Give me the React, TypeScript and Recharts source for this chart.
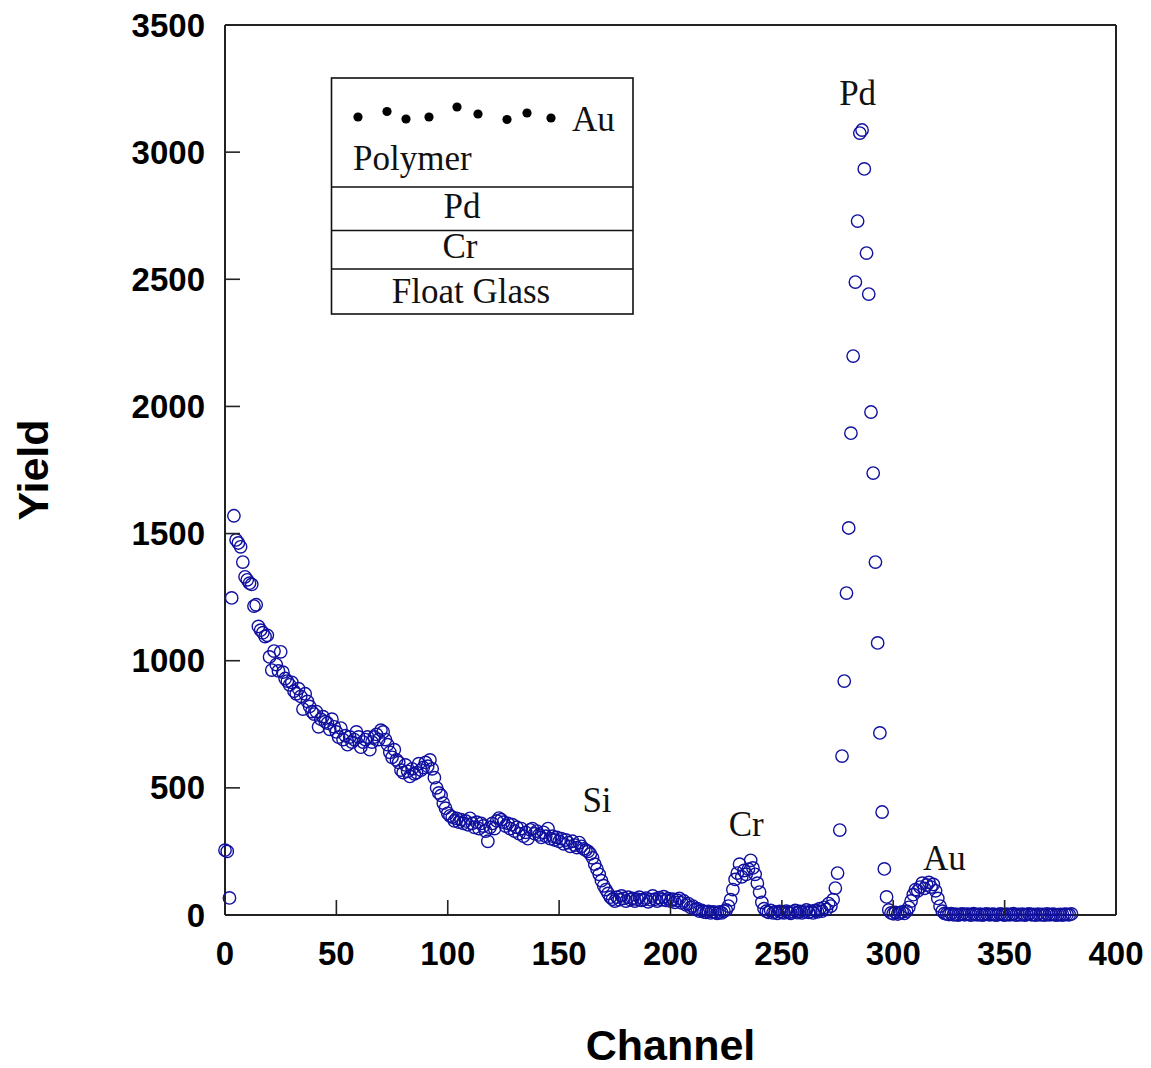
import React from 'react';
import { ScatterChart, Scatter, XAxis, YAxis, ReferenceDot } from 'recharts';

// RBS spectrum: yield per channel, starting at channel 0
const yields: number[] = [
  255, 250, 67, 1247, 1570, 1475, 1463, 1448, 1388, 1330,
  1318, 1305, 1300, 1215, 1220, 1135, 1120, 1110, 1095, 1100,
  1015, 963, 1038, 985, 960, 1035, 955, 930, 920, 905,
  915, 880, 870, 890, 860, 810, 870, 840, 820, 800,
  790, 800, 740, 770, 780, 760, 755, 730, 770, 740,
  720, 700, 735, 690, 705, 670, 700, 680, 690, 720,
  700, 660, 680, 690, 700, 650, 680, 700, 710, 690,
  727, 720, 690, 670, 640, 620, 650, 610, 600, 570,
  560, 590, 565, 545, 575, 555, 560, 595, 570, 580,
  600, 585, 610, 575, 540, 500, 480, 470, 440, 420,
  400, 390, 385, 370, 380, 365, 375, 360, 370, 355,
  380, 360, 345, 365, 340, 360, 350, 330, 290, 345,
  360, 340, 370, 381, 375, 365, 350, 360, 340, 355,
  330, 345, 320, 340, 310, 325, 300, 335, 340, 320,
  330, 315, 305, 325, 310, 340, 300, 310, 295, 305,
  290, 300, 280, 295, 285, 270, 290, 275, 265, 285,
  270, 260, 255, 250, 240, 225, 200, 180, 160, 135,
  115, 100, 85, 70, 62, 55, 70, 60, 75, 65,
  55, 70, 60, 65, 55, 62, 70, 58, 60, 66,
  52, 60, 75, 62, 55, 68, 60, 72, 58, 64,
  55, 62, 50, 58, 65, 48, 55, 40, 45, 30,
  35, 22, 25, 15, 18, 12, 10, 14, 8, 12,
  10, 6, 12, 8, 15, 20, 35, 60, 100, 140,
  165, 200, 150, 175, 160, 180, 215, 185, 160, 125,
  90, 50, 25, 15, 10, 18, 8, 12, 6, 14,
  10, 8, 15, 10, 6, 12, 18, 9, 14, 8,
  12, 20, 10, 15, 8, 18, 12, 25, 15, 30,
  22, 45, 35, 60, 106, 165, 334, 625, 920, 1266,
  1522, 1895, 2198, 2489, 2729, 3075, 3087, 2934, 2603, 2442,
  1978, 1738, 1388, 1070, 716, 405, 181, 71, 20, 8,
  5, 10, 4, 8, 12, 6, 15, 30, 55, 80,
  100, 95, 110, 125, 105, 118, 128, 110, 120, 95,
  65, 35, 15, 6, 4, 2, 5, 1, 3, 0,
  2, 4, 1, 3, 2, 0, 5, 2, 1, 3,
  0, 2, 4, 1, 2, 3, 0, 1, 4, 2,
  0, 3, 1, 2, 5, 0, 2, 1, 3, 0,
  2, 4, 1, 2, 0, 3, 1, 2, 0, 4,
  1, 2, 3, 0, 1, 2, 0, 3, 2, 1,
  4,
];

const channelTicks = [0, 50, 100, 150, 200, 250, 300, 350, 400];
const yieldTicks = [0, 500, 1000, 1500, 2000, 2500, 3000, 3500];

// Element labels placed above their peaks (channel, yield of the label baseline)
const peakLabels = [
  { text: 'Si', channel: 167, yield: 405 },
  { text: 'Cr', channel: 234, yield: 311 },
  { text: 'Pd', channel: 284, yield: 3185 },
  { text: 'Au', channel: 323, yield: 178 },
];

// Sample stack shown in the inset, top to bottom below the polymer layer
const layerNames = ['Pd', 'Cr', 'Float Glass'];

const spectrum = yields.map((y, i) => ({ channel: i, yield: y }));

const SANS = '"Liberation Sans", Arial, Helvetica, sans-serif';
const SERIF = '"Liberation Serif", "Times New Roman", Times, serif';
const TICK_LEN = 15;
const AXIS_COLOR = '#222';
const MARKER_COLOR = '#1010a0';

const LeftTick = (props: any) => {
  const { x, y, payload } = props;
  return (
    <g>
      <line x1={x} y1={y} x2={x + TICK_LEN} y2={y} stroke={AXIS_COLOR} strokeWidth={1.6} />
      <text x={x - 20} y={y} textAnchor="end" dominantBaseline="central"
        fontFamily={SANS} fontWeight="bold" fontSize={33} fill="#000">
        {payload.value}
      </text>
    </g>
  );
};

const RightTick = (props: any) => {
  const { x, y } = props;
  return <line x1={x} y1={y} x2={x - TICK_LEN} y2={y} stroke={AXIS_COLOR} strokeWidth={1.6} />;
};

const BottomTick = (props: any) => {
  const { x, y, payload } = props;
  return (
    <g>
      <line x1={x} y1={y} x2={x} y2={y - TICK_LEN} stroke={AXIS_COLOR} strokeWidth={1.6} />
      <text x={x} y={y + 50} textAnchor="middle"
        fontFamily={SANS} fontWeight="bold" fontSize={33} fill="#000">
        {payload.value}
      </text>
    </g>
  );
};

const TopTick = (props: any) => {
  const { x, y } = props;
  return <line x1={x} y1={y} x2={x} y2={y + TICK_LEN} stroke={AXIS_COLOR} strokeWidth={1.6} />;
};

const OpenCircle = (props: any) => {
  const { cx, cy } = props;
  if (cx == null || cy == null) return <g />;
  return <circle cx={cx} cy={cy} r={6.2} fill="none" stroke={MARKER_COLOR} strokeWidth={1.4} />;
};

// Inset sketch of the sample: Au particles on polymer over Pd / Cr / float glass
const SampleInset = () => {
  const left = 323.5;
  const right = 625;
  const top = 70;
  const bottom = 306;
  const dividers = [179, 222.5, 261];
  const layerBaselines = [210, 250, 295];
  const layerCenters = [454, 452, 463];
  const particles = [
    [350, 109], [379, 103.5], [398, 111], [421, 109], [449, 99],
    [470, 106], [499, 111.5], [519, 105], [543, 110],
  ];
  return (
    <g>
      <rect x={left} y={top} width={right - left} height={bottom - top}
        fill="#fff" stroke="#111" strokeWidth={1.6} />
      {dividers.map((d) => (
        <line key={d} x1={left} x2={right} y1={d} y2={d} stroke="#111" strokeWidth={1.6} />
      ))}
      {particles.map(([px, py], i) => (
        <circle key={i} cx={px} cy={py} r={4.6} fill="#000" />
      ))}
      <text x={564} y={123} fontFamily={SERIF} fontSize={35} fill="#111">Au</text>
      <text x={345} y={162} fontFamily={SERIF} fontSize={35} fill="#111">Polymer</text>
      {layerNames.map((name, i) => (
        <text key={name} x={layerCenters[i]} y={layerBaselines[i]} textAnchor="middle"
          fontFamily={SERIF} fontSize={35} fill="#111">
          {name}
        </text>
      ))}
    </g>
  );
};

export default function App() {
  return (
    <div style={{ width: 1135, height: 1060, background: '#fff' }}>
      <ScatterChart width={1135} height={1060}
        margin={{ top: 16, right: 26, bottom: 0, left: 0 }}>
        <XAxis xAxisId="bottom" type="number" dataKey="channel" domain={[0, 400]}
          ticks={channelTicks} interval={0} height={153} tickSize={0} tickMargin={0}
          axisLine={{ stroke: AXIS_COLOR, strokeWidth: 2 }} tickLine={false}
          tick={<BottomTick />}
          label={{
            content: (p: any) => {
              const vb = p.viewBox || {};
              return (
                <text x={vb.x + vb.width / 2} y={vb.y + 145} textAnchor="middle"
                  fontFamily={SANS} fontWeight="bold" fontSize={43} fill="#000">
                  Channel
                </text>
              );
            },
          }} />
        <XAxis xAxisId="top" orientation="top" type="number" dataKey="channel"
          domain={[0, 400]} ticks={channelTicks} interval={0} height={1}
          tickSize={0} tickMargin={0} axisLine={{ stroke: AXIS_COLOR, strokeWidth: 2 }}
          tickLine={false} tick={<TopTick />} />
        <YAxis yAxisId="left" type="number" dataKey="yield" domain={[0, 3500]}
          ticks={yieldTicks} interval={0} width={217} tickSize={0} tickMargin={0}
          axisLine={{ stroke: AXIS_COLOR, strokeWidth: 2 }} tickLine={false}
          tick={<LeftTick />}
          label={{
            content: (p: any) => {
              const vb = p.viewBox || {};
              const cy = vb.y + vb.height / 2;
              return (
                <text x={40} y={cy} textAnchor="middle" transform={`rotate(-90 40 ${cy})`}
                  fontFamily={SANS} fontWeight="bold" fontSize={43} fill="#000">
                  Yield
                </text>
              );
            },
          }} />
        <YAxis yAxisId="right" orientation="right" type="number" dataKey="yield"
          domain={[0, 3500]} ticks={yieldTicks} interval={0} width={1}
          tickSize={0} tickMargin={0} axisLine={{ stroke: AXIS_COLOR, strokeWidth: 2 }}
          tickLine={false} tick={<RightTick />} />
        <Scatter data={spectrum} xAxisId="bottom" yAxisId="left"
          isAnimationActive={false} shape={<OpenCircle />} />
        {peakLabels.map((lbl) => (
          <ReferenceDot key={lbl.text} xAxisId="bottom" yAxisId="left"
            x={lbl.channel} y={lbl.yield} r={0}
            shape={(p: any) => (
              <text x={p.cx} y={p.cy} textAnchor="middle"
                fontFamily={SERIF} fontSize={35} fill="#111">
                {lbl.text}
              </text>
            )} />
        ))}
        <SampleInset />
      </ScatterChart>
    </div>
  );
}
